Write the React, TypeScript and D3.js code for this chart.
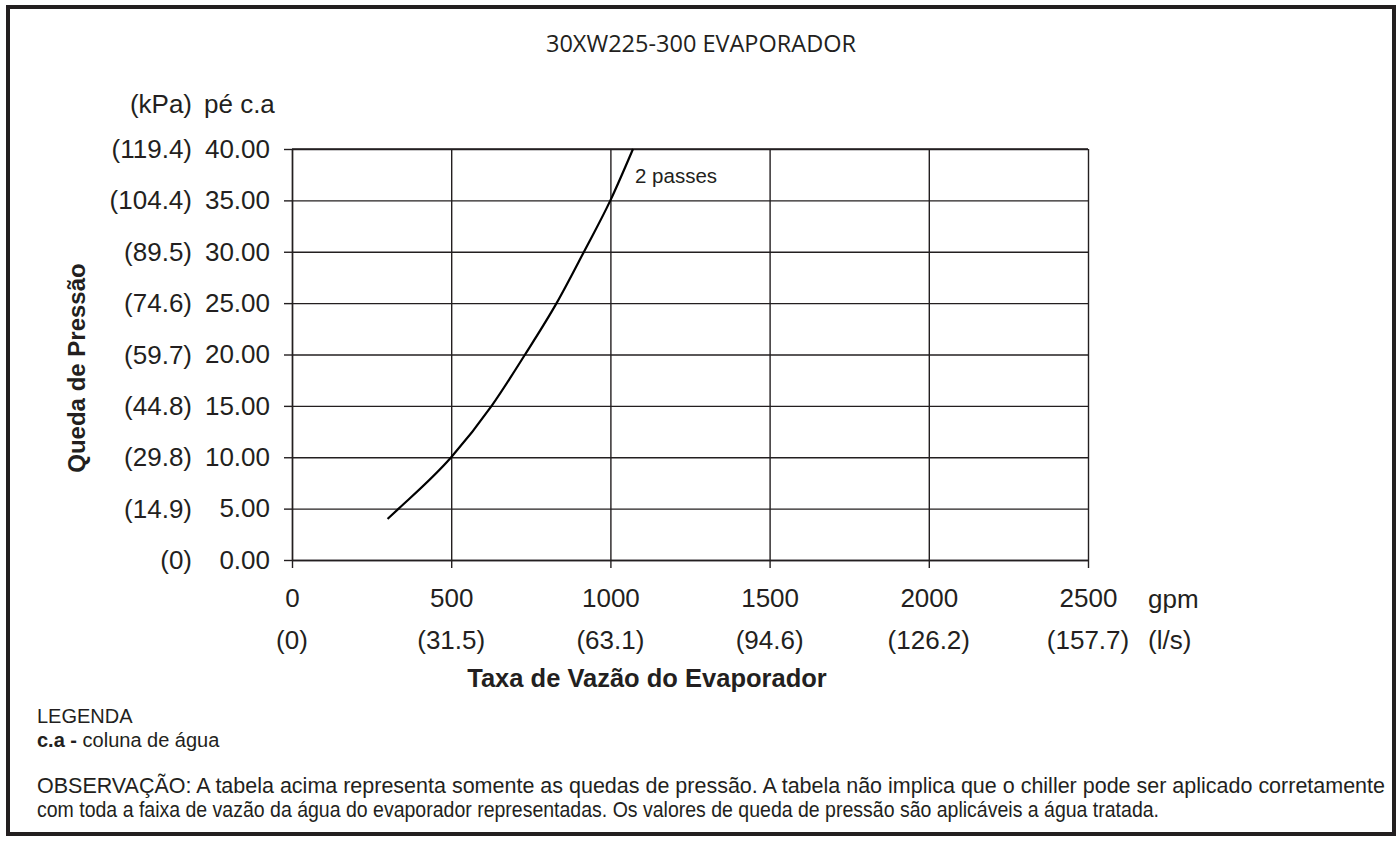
import React, { useEffect, useRef } from "react";
import * as d3 from "d3";

// curve (gpm vs ft water column)
const flowGpm = [300, 335, 500, 627, 732, 831, 917, 1000, 1071];
const dropFt = [4, 5, 10, 15, 20, 25, 30, 35, 40];

const ftTicks = [0, 5, 10, 15, 20, 25, 30, 35, 40];
const kpaLabels = ["(0)", "(14.9)", "(29.8)", "(44.8)", "(59.7)", "(74.6)", "(89.5)", "(104.4)", "(119.4)"];
const gpmTicks = [0, 500, 1000, 1500, 2000, 2500];
const lpsLabels = ["(0)", "(31.5)", "(63.1)", "(94.6)", "(126.2)", "(157.7)"];

const title = "30XW225-300 EVAPORADOR";
const seriesLabel = "2 passes";
const obsLines = [
  "OBSERVAÇÃO: A tabela acima representa somente as quedas de pressão. A tabela não implica que o chiller pode ser aplicado corretamente",
  "com toda a faixa de vazão da água do evaporador representadas. Os valores de queda de pressão são aplicáveis a água tratada.",
];
const obsWidths = [1348, 1122]; // measured line lengths in the original

const FONT = "'Liberation Sans', Arial, Helvetica, sans-serif";
const INK = "#231f20";
const TICK_FS = 26;

const App = () => {
  const ref = useRef<SVGSVGElement>(null);

  useEffect(() => {
    document.body.style.margin = "0";
    if (!ref.current) return;
    const svg = d3.select(ref.current);
    svg.selectAll("*").remove();

    const width = 1398;
    const height = 845;
    const margin = { top: 149, right: 310, bottom: 285, left: 292 };

    svg.attr("width", width).attr("height", height).style("display", "block");
    svg.append("rect").attr("width", width).attr("height", height).attr("fill", "#fff");

    // outer frame
    svg
      .append("rect")
      .attr("x", 8)
      .attr("y", 7)
      .attr("width", 1386)
      .attr("height", 827)
      .attr("fill", "none")
      .attr("stroke", INK)
      .attr("stroke-width", 4);

    const x = d3
      .scaleLinear()
      .domain([0, 2500])
      .range([margin.left, width - margin.right]);
    const y = d3
      .scaleLinear()
      .domain([0, 40])
      .range([height - margin.bottom, margin.top]);

    const plotW = x(2500) - x(0);
    const plotH = y(0) - y(40);

    // y axis + horizontal grid
    svg
      .append("g")
      .attr("transform", `translate(${x(0)},0)`)
      .call(
        d3
          .axisLeft(y)
          .tickValues(ftTicks)
          .tickSize(8)
          .tickSizeOuter(0)
          .tickPadding(14)
          .tickFormat(d3.format(".2f"))
      )
      .call((g) => g.select(".domain").attr("stroke", INK).attr("stroke-width", 1.4))
      .call((g) => g.selectAll(".tick line").attr("stroke", INK).attr("stroke-width", 1.4))
      .call((g) =>
        g
          .selectAll(".tick line")
          .clone()
          .attr("x1", 0)
          .attr("x2", plotW)
      )
      .call((g) =>
        g.selectAll("text").attr("font-size", TICK_FS).attr("font-family", FONT).attr("fill", INK)
      );

    // x axis + vertical grid
    svg
      .append("g")
      .attr("transform", `translate(0,${y(0)})`)
      .call(
        d3
          .axisBottom(x)
          .tickValues(gpmTicks)
          .tickSize(8)
          .tickSizeOuter(0)
          .tickPadding(21)
          .tickFormat(d3.format("d"))
      )
      .call((g) => g.select(".domain").attr("stroke", INK).attr("stroke-width", 1.4))
      .call((g) => g.selectAll(".tick line").attr("stroke", INK).attr("stroke-width", 1.4))
      .call((g) =>
        g
          .selectAll(".tick line")
          .clone()
          .attr("y1", 0)
          .attr("y2", -plotH)
      )
      .call((g) =>
        g.selectAll("text").attr("font-size", TICK_FS).attr("font-family", FONT).attr("fill", INK)
      );

    // top edge of the plot
    svg
      .append("line")
      .attr("x1", x(0))
      .attr("x2", x(2500))
      .attr("y1", y(40))
      .attr("y2", y(40))
      .attr("stroke", INK)
      .attr("stroke-width", 1.4);

    // kPa labels
    svg
      .append("g")
      .selectAll("text")
      .data(ftTicks)
      .join("text")
      .attr("x", 192)
      .attr("y", (d) => y(d))
      .attr("dy", "0.35em")
      .attr("text-anchor", "end")
      .attr("font-size", TICK_FS)
      .attr("font-family", FONT)
      .attr("fill", INK)
      .text((d, i) => kpaLabels[i]);

    // l/s labels
    svg
      .append("g")
      .selectAll("text")
      .data(gpmTicks)
      .join("text")
      .attr("x", (d) => x(d))
      .attr("y", 649)
      .attr("text-anchor", "middle")
      .attr("font-size", TICK_FS)
      .attr("font-family", FONT)
      .attr("fill", INK)
      .text((d, i) => lpsLabels[i]);

    const label = (tx, ty, t, size, opts: any = {}) =>
      svg
        .append("text")
        .attr("x", tx)
        .attr("y", ty)
        .attr("font-size", size)
        .attr("font-family", opts.family || FONT)
        .attr("font-weight", opts.weight || "normal")
        .attr("text-anchor", opts.anchor || "start")
        .attr("fill", INK)
        .text(t);

    // units
    label(192, 113, "(kPa)", TICK_FS, { anchor: "end" });
    label(204, 113, "pé c.a", TICK_FS);
    label(1148, 608, "gpm", TICK_FS);
    label(1148, 649, "(l/s)", TICK_FS);

    // titles
    label(701, 52, title, 23.5, { anchor: "middle", family: "'Open Sans', sans-serif" });
    label(647, 687, "Taxa de Vazão do Evaporador", 25.5, { anchor: "middle", weight: "bold" });
    svg
      .append("text")
      .attr("transform", "translate(85,368) rotate(-90)")
      .attr("text-anchor", "middle")
      .attr("font-size", 24)
      .attr("font-weight", "bold")
      .attr("font-family", FONT)
      .attr("fill", INK)
      .text("Queda de Pressão");

    // curve
    const line = d3
      .line<number>()
      .x((d, i) => x(flowGpm[i]))
      .y((d) => y(d))
      .curve(d3.curveMonotoneX);

    svg
      .append("path")
      .datum(dropFt)
      .attr("fill", "none")
      .attr("stroke", "#000")
      .attr("stroke-width", 2.2)
      .attr("d", line);

    label(635, 183, seriesLabel, 20.5);

    // legend + note
    label(37, 723, "LEGENDA", 20);
    const leg = label(37, 747, "", 20);
    leg.append("tspan").attr("font-weight", "bold").text("c.a - ");
    leg.append("tspan").text("coluna de água");
    svg
      .append("g")
      .selectAll("text")
      .data(obsLines)
      .join("text")
      .attr("x", 37)
      .attr("y", (d, i) => 793 + i * 24)
      .attr("font-size", 21.5)
      .attr("font-family", FONT)
      .attr("fill", INK)
      .attr("textLength", (d, i) => obsWidths[i])
      .attr("lengthAdjust", "spacingAndGlyphs")
      .text((d) => d);
  }, []);

  return <svg ref={ref} />;
};

export default App;
